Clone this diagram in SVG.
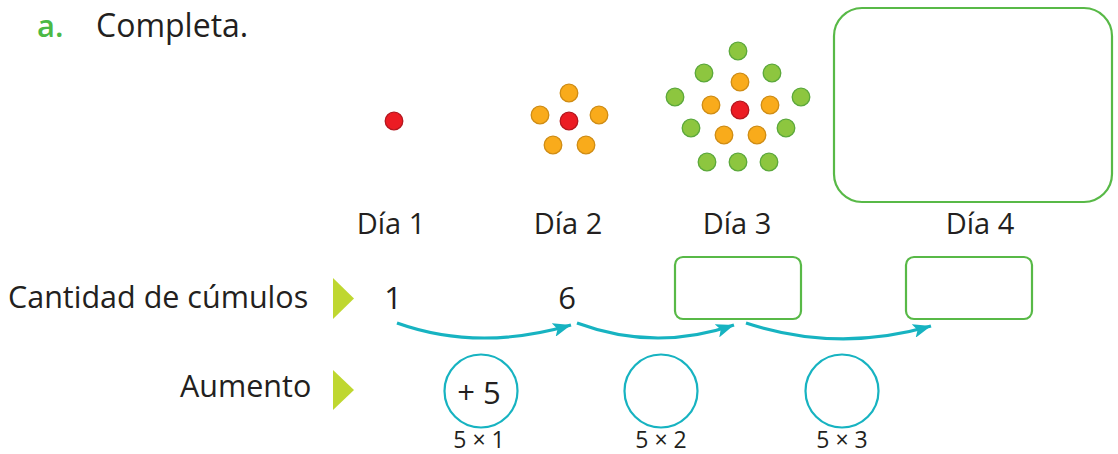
<svg xmlns="http://www.w3.org/2000/svg" width="1118" height="454" viewBox="0 0 1118 454">
  <style>
    .t { font-family: "Open Sans", "Noto Sans", "Liberation Sans", sans-serif; fill: #231f20; }
    .lbl { font-size: 30.5px; }
    .day { font-size: 29px; text-anchor: middle; }
    .num { font-size: 31px; text-anchor: middle; }
    .small { font-size: 23px; text-anchor: middle; }
    .box { fill: none; stroke: #58b947; stroke-width: 2.2; }
    .ring { fill: none; stroke: #17b3c1; stroke-width: 2.2; }
    .arc { fill: none; stroke: #17b3c1; stroke-width: 3.2; marker-end: url(#head); }
    .tri { fill: #bfd730; }
    .r { fill: #ec1c24; stroke: #b5161e; stroke-width: 1.3; }
    .o { fill: #f9ab1b; stroke: #cf8c14; stroke-width: 1.3; }
    .g { fill: #8dc63f; stroke: #5ba83a; stroke-width: 1.3; }
  </style>
  <defs>
    <marker id="head" markerUnits="userSpaceOnUse" markerWidth="20" markerHeight="14" refX="18" refY="7" orient="auto">
      <path d="M0,0 L18,7 L0,14 L4,7 Z" fill="#17b3c1"/>
    </marker>
  </defs>

  <rect width="1118" height="454" fill="#ffffff"/>

  <!-- heading -->
  <g id="heading">
    <text class="t" x="37" y="37" font-size="31" font-weight="600" style="fill:#4cb944">a.</text>
    <text class="t" x="96" y="37" font-size="32">Completa.</text>
  </g>

  <!-- day 1 -->
  <g id="day1">
    <circle class="r" cx="394" cy="121" r="8.8"/>
    <text class="t day" x="391" y="234">Día 1</text>
  </g>

  <!-- day 2 -->
  <g id="day2">
    <circle class="o" cx="569" cy="93" r="8.8"/>
    <circle class="o" cx="540" cy="115" r="8.8"/>
    <circle class="o" cx="599" cy="115" r="8.8"/>
    <circle class="o" cx="553" cy="145" r="8.8"/>
    <circle class="o" cx="586" cy="145" r="8.8"/>
    <circle class="r" cx="569" cy="121" r="8.8"/>
    <text class="t day" x="568" y="234">Día 2</text>
  </g>

  <!-- day 3 -->
  <g id="day3">
    <circle class="g" cx="738" cy="51" r="8.8"/>
    <circle class="g" cx="704" cy="73" r="8.8"/>
    <circle class="g" cx="772" cy="73" r="8.8"/>
    <circle class="g" cx="675" cy="97" r="8.8"/>
    <circle class="g" cx="801" cy="97" r="8.8"/>
    <circle class="g" cx="691" cy="128" r="8.8"/>
    <circle class="g" cx="786" cy="128" r="8.8"/>
    <circle class="g" cx="707" cy="162" r="8.8"/>
    <circle class="g" cx="738" cy="162" r="8.8"/>
    <circle class="g" cx="769" cy="162" r="8.8"/>
    <circle class="o" cx="740" cy="82" r="8.8"/>
    <circle class="o" cx="711" cy="105" r="8.8"/>
    <circle class="o" cx="770" cy="105" r="8.8"/>
    <circle class="o" cx="724" cy="135" r="8.8"/>
    <circle class="o" cx="757" cy="135" r="8.8"/>
    <circle class="r" cx="740" cy="110" r="8.8"/>
    <text class="t day" x="737" y="234">Día 3</text>
  </g>

  <!-- day 4 -->
  <g id="day4">
    <rect class="box" x="834" y="8" width="278" height="194" rx="28"/>
    <text class="t day" x="980" y="234">Día 4</text>
  </g>

  <!-- row: cantidad de cúmulos -->
  <g id="row-cantidad">
    <text class="t lbl" x="8" y="308">Cantidad de cúmulos</text>
    <polygon class="tri" points="333,278 354,298.5 333,319"/>
  </g>
  <g id="count1"><text class="t num" x="393" y="309">1</text></g>
  <g id="count2"><text class="t num" x="567" y="309">6</text></g>
  <g id="count3"><rect class="box" x="675" y="257" width="126" height="62" rx="8"/></g>
  <g id="count4"><rect class="box" x="906" y="257" width="126" height="62" rx="8"/></g>

  <!-- row: aumento -->
  <g id="row-aumento">
    <text class="t lbl" x="180" y="397">Aumento</text>
    <polygon class="tri" points="333,370 354,390 333,410"/>
  </g>
  <g id="step1">
    <circle class="ring" cx="481" cy="391" r="36.5"/>
    <text class="t num" x="479" y="404" font-size="37">+ 5</text>
    <text class="t small" x="479" y="448">5 × 1</text>
  </g>
  <g id="step2">
    <circle class="ring" cx="661" cy="391" r="36.5"/>
    <text class="t small" x="661" y="448">5 × 2</text>
  </g>
  <g id="step3">
    <circle class="ring" cx="842" cy="391" r="36.5"/>
    <text class="t small" x="842" y="448">5 × 3</text>
  </g>

  <!-- connectors -->
  <g id="connectors">
    <path class="arc" d="M397,323 Q478,352 571,325"/>
    <path class="arc" d="M577,323 Q655,352 734,325"/>
    <path class="arc" d="M746,323 Q838,353 931,326"/>
  </g>
</svg>
